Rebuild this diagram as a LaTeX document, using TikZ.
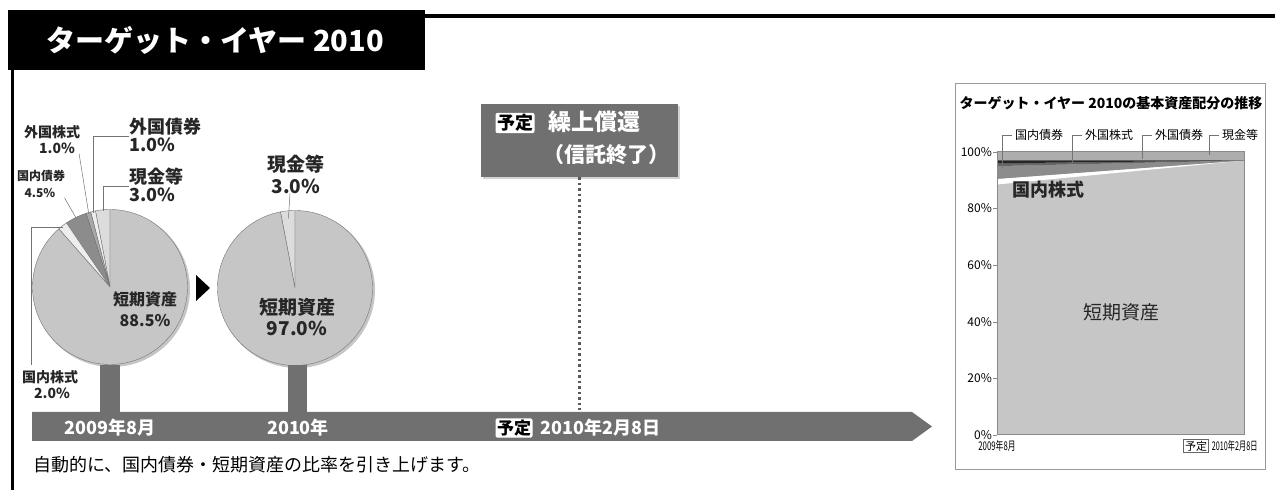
\documentclass[tikz,border=0pt]{standalone}
\usepackage{fontspec}
\setmainfont{Noto Sans CJK JP}
\usetikzlibrary{positioning,shadows}
\definecolor{bargray}{HTML}{707070}
\definecolor{piegray}{HTML}{C6C6C6}
\definecolor{cashgray}{HTML}{DCDCDC}
\definecolor{darkslice}{HTML}{8C8C8C}
\definecolor{midslice}{HTML}{A8A8A8}
\definecolor{paleslice}{HTML}{EDEDED}
\definecolor{linegray}{HTML}{8A8A8A}
\newcommand\fsz[1]{\fontsize{#1}{#1}\selectfont}

\begin{document}
\begin{tikzpicture}[x=1pt, y=1pt,
	every node/.style={inner sep=0pt},
	lbl/.style={font=\fsz{#1}\bfseries, text=black!85, align=center},
	lbl/.default=14,
	wlbl/.style={font=\fsz{#1}\bfseries, text=white},
	wlbl/.default=18,
	tag/.style={fill=white, rounded corners=2pt, inner sep=1.5pt, font=\fsz{#1}\bfseries, text=black},
	tag/.default=17,
	leader/.style={draw=black!55, line width=0.5pt},
	slice/.style={draw=black!55, line width=0.4pt},
	dotline/.style={draw=black!65, line width=2.5pt, dash pattern=on 2.5pt off 3pt},
	panel/.style={draw=black!40, line width=1pt}]
	\useasboundingbox (0,0) rectangle (1275,490);

	% title
	\fill[black] (8,420) rectangle (425,480);
	\draw[line width=4pt] (425,474) -- (1275,474);
	\draw[line width=3pt] (12,420) -- (12,0);
	\node[font=\fsz{29}\bfseries, text=white] (title) at (215,450) {ターゲット・イヤー 2010};

	% pie 2009
	\coordinate (p1) at (110,203);
	\fill[black!45, opacity=.5] ([shift={(2,-2)}]p1) circle[radius=78pt];
	\foreach \a/\b/\c in {90/100.8/cashgray, 100.8/104.4/paleslice, 104.4/108/midslice,
		108/124.2/darkslice, 124.2/131.4/paleslice, 131.4/450/piegray}
		\fill[slice, fill=\c] (p1) -- ++(\a:77.5pt) arc[start angle=\a, end angle=\b, radius=77.5pt] -- cycle;
	\path (p1) ++(102.6:76pt) coordinate (fbpie);
	\path (p1) ++(95.4:76pt) coordinate (c1pie);
	\path (p1) ++(106.2:76pt) coordinate (fspie);
	\path (p1) ++(116.1:76pt) coordinate (dbpie);
	\path (p1) ++(127.8:76pt) coordinate (dspie);

	\node[lbl=18, anchor=west] (fbname) at (129,363) {外国債券};
	\node[lbl=18, anchor=west] (fbval) at (129,345) {1.0\%};
	\draw[leader] (fbname.south west) -| (fbpie);
	\node[lbl=18, anchor=west] (c1name) at (129,313) {現金等};
	\node[lbl=18, anchor=west] (c1val) at (129,295) {3.0\%};
	\draw[leader] (c1name.south west) -| (c1pie);
	\node[lbl=14] (fsname) at (52,358) {外国株式};
	\node[lbl=14] (fsval) at (57,342) {1.0\%};
	\draw[leader] ([xshift=4pt]fsval.south east) -- (fspie);
	\node[lbl=12] (dbname) at (41,314) {国内債券};
	\node[lbl=12] (dbval) at (40,297) {4.5\%};
	\draw[leader] ([xshift=9pt]dbval.south east) -- (dbpie);
	\node[lbl=14] (dsname) at (50,113) {国内株式};
	\node[lbl=14] (dsval) at (52,97) {2.0\%};
	\coordinate (dsend) at (31,125);
	\draw[leader] (dspie) -| (dsend);
	\node[lbl=16, font=\fsz{16}\linespread{1.3}\selectfont\bfseries] (st1) at (145,181) {短期資産\\88.5\%};

	\fill[black] (196,215) -- (210,202) -- (196,189) -- cycle;

	% pie 2010
	\coordinate (p2) at (295,202);
	\fill[black!45, opacity=.5] ([shift={(2,-2)}]p2) circle[radius=78pt];
	\foreach \a/\b/\c in {90/100.8/cashgray, 100.8/450/piegray}
		\fill[slice, fill=\c] (p2) -- ++(\a:77.5pt) arc[start angle=\a, end angle=\b, radius=77.5pt] -- cycle;
	\path (p2) ++(95.4:70pt) coordinate (c2pie);
	\node[lbl=19, font=\fsz{19}\linespread{1.15}\selectfont\bfseries] (c2) at (296,316) {現金等\\3.0\%};
	\draw[leader] ([xshift=-6pt]c2.south) -- (c2pie);
	\node[lbl=19, font=\fsz{19}\linespread{1.1}\selectfont\bfseries] (st2) at (297,173) {短期資産\\97.0\%};

	% time line
	\fill[bargray] (100,78) rectangle (120,125);
	\fill[bargray] (288,78) rectangle (307,125);
	\fill[bargray] (32,78) -- (912,78) -- (932,63.5) -- (912,49) -- (32,49) -- cycle;
	\node[wlbl] (d2009) at (110,62) {2009年8月};
	\node[wlbl] (d2010) at (298,62) {2010年};
	\node[tag] (plantag) at (514,62) {予定};
	\node[wlbl, right=8pt of plantag] (dplan) {2010年2月8日};

	% redemption
	\node[fill=bargray, minimum width=197pt, minimum height=73pt,
		drop shadow={opacity=.35, shadow xshift=2pt, shadow yshift=-2pt}] (plan) at (579.5,349.5) {};
	\node[tag=18] (plantag2) at (515,367) {予定};
	\node[wlbl=23, anchor=west] (redeem) at (548,368) {繰上償還};
	\node[wlbl=21, anchor=west] (trust) at (543,335) {（信託終了）};
	\coordinate (dotend) at (579.5,80);
	\draw[dotline] (plan.south) -- (dotend);

	\node[font=\fsz{18}, anchor=west] (note) at (33,25) {自動的に、国内債券・短期資産の比率を引き上げます。};

	% chart
	\draw[panel] (955,20) rectangle (1265,406);
	\node[font=\fsz{14}\bfseries] (ctitle) at (1111,387) {ターゲット・イヤー 2010の基本資産配分の推移};
	\fill[piegray] (997,55) rectangle (1244,338);
	\fill[white] (997,305.5) -- (1244,329.5) -- (997,311.1) -- cycle;
	\fill[darkslice] (997,311.1) -- (1244,329.5) -- (997,323.9) -- cycle;
	\fill[black!60] (997,323.9) -- (1244,329.5) -- (997,326.7) -- cycle;
	\fill[black!85] (997,326.7) -- (1244,329.5) -- (997,329.5) -- cycle;
	\fill[black!32] (997,329.5) rectangle (1244,338);
	\draw[linegray, line width=1pt] (997,55) rectangle (1244,338);
	\foreach \p in {0,20,...,100} {
		\draw[linegray] (993,55+2.83*\p) -- (997,55+2.83*\p);
		\node[font=\fsz{12}, anchor=east] (yt\p) at (992,55+2.83*\p) {\p\%};
	}
	\foreach \n/\x/\e in {国内債券/1015/322, 外国株式/1085/327, 外国債券/1155/331, 現金等/1222/335} {
		\node[font=\fsz{12}, anchor=west] (lg\x) at (\x,355) {\n};
		\coordinate (le\x) at (\x-13,\e);
		\draw[leader] ([xshift=-3pt]lg\x.west) -| (le\x);
	}
	\node[font=\fsz{18}\bfseries, text=black!85] (cds) at (1048,300) {国内株式};
	\node[font=\fsz{19}, text=black!85] (cst) at (1121,178) {短期資産};
	\node[font=\fsz{12}] (x2009) at (997,44) {\scalebox{0.65}[1]{2009年8月}};
	\node[draw=black!60, fill=white, inner sep=1.5pt, font=\fsz{11}] (xtag) at (1196,44) {予定};
	\node[font=\fsz{12}, right=3pt of xtag] (x2010) {\scalebox{0.6}[1]{2010年2月8日}};
\end{tikzpicture}
\end{document}
